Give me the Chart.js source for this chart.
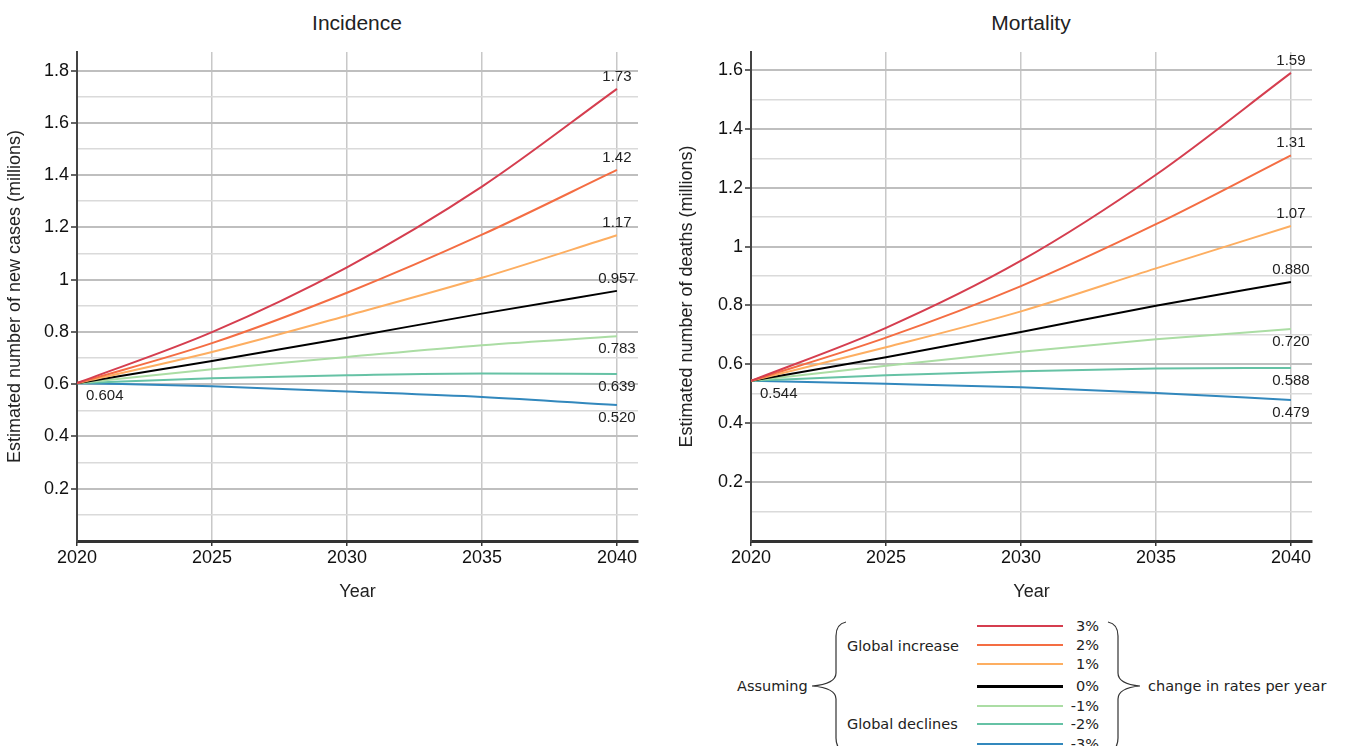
<!DOCTYPE html>
<html>
<head>
<meta charset="utf-8">
<script src="https://cdn.jsdelivr.net/npm/chart.js@4.4.1/dist/chart.umd.min.js"></script>
<style>
  html, body { margin: 0; padding: 0; background: #fff; }
  body { width: 1345px; height: 746px; position: relative; overflow: hidden; }
  canvas { position: absolute; top: 0; }
  .title { position: absolute; top: 11px; font: 21px "Liberation Sans", Arial, sans-serif; line-height: 24px; color: #222; transform: translateX(-50%); white-space: nowrap; }
  .lg { position: absolute; font: 14.5px "DejaVu Sans", Verdana, sans-serif; color: #222; white-space: nowrap; line-height: 16px; }
  .lg-line { position: absolute; left: 977px; width: 86px; }
  .lg-pct { position: absolute; right: 246px; font: 14.5px "DejaVu Sans", Verdana, sans-serif; color: #222; line-height: 16px; }
</style>
</head>
<body>
<div class="title" style="left:357px">Incidence</div>
<div class="title" style="left:1031px">Mortality</div>
<canvas id="incidence" width="660" height="610" style="left:0"></canvas>
<canvas id="mortality" width="673" height="610" style="left:672px"></canvas>
<div id="legend"></div>
<svg width="1345" height="746" style="position:absolute;left:0;top:0;pointer-events:none">
  <path d="M846 622 Q836 624 836 636 L836 673 Q836 684 812 686 Q836 688 836 699 L836 738 Q836 750 846 752" fill="none" stroke="#333" stroke-width="1.2"/>
  <path d="M1108 622 Q1118 624 1118 636 L1118 673 Q1118 684 1140 686 Q1118 688 1118 699 L1118 738 Q1118 750 1108 752" fill="none" stroke="#333" stroke-width="1.2"/>
</svg>
<script>
// years shown on the x axis and used for the projections
const years = [2020, 2025, 2030, 2035, 2040];
const xTicks = [2020, 2025, 2030, 2035, 2040];
const scenarios = ['3%', '2%', '1%', '0%', '-1%', '-2%', '-3%'];

// incidence, millions of new cases
const inc3 = [0.604, 0.799, 1.047, 1.356, 1.73];
const inc2 = [0.604, 0.757, 0.950, 1.172, 1.42];
const inc1 = [0.604, 0.723, 0.862, 1.007, 1.17];
const inc0 = [0.604, 0.689, 0.778, 0.870, 0.957];
const incM1 = [0.604, 0.657, 0.704, 0.749, 0.783];
const incM2 = [0.604, 0.623, 0.634, 0.641, 0.639];
const incM3 = [0.604, 0.592, 0.572, 0.551, 0.520];

// mortality, millions of deaths
const mort3 = [0.544, 0.724, 0.952, 1.244, 1.59];
const mort2 = [0.544, 0.691, 0.866, 1.076, 1.31];
const mort1 = [0.544, 0.658, 0.780, 0.926, 1.07];
const mort0 = [0.544, 0.624, 0.710, 0.799, 0.880];
const mortM1 = [0.544, 0.595, 0.643, 0.685, 0.720];
const mortM2 = [0.544, 0.563, 0.577, 0.586, 0.588];
const mortM3 = [0.544, 0.534, 0.522, 0.503, 0.479];

const incTickLabels = ['0.2', '0.4', '0.6', '0.8', '1', '1.2', '1.4', '1.6', '1.8'];
const mortTickLabels = ['0.2', '0.4', '0.6', '0.8', '1', '1.2', '1.4', '1.6'];

const lineColors = ['#d53e4f', '#f46d43', '#fdae61', '#000000', '#abdda4', '#66c2a5', '#3288bd'];

const FONT = '"Liberation Sans", Arial, sans-serif';

// labels at the end of each line and at the common start point
const valueLabels = {
    id: 'valueLabels',
    afterDatasetsDraw(chart) {
        const ctx = chart.ctx;
        ctx.save();
        ctx.font = '15px ' + FONT;
        ctx.fillStyle = '#222';
        ctx.textBaseline = 'middle';
        chart.data.datasets.forEach((ds, i) => {
            const pts = chart.getDatasetMeta(i).data;
            const last = pts[pts.length - 1];
            const v = ds.data[ds.data.length - 1].y;
            ctx.textAlign = 'center';
            ctx.fillText(v.toPrecision(3), last.x, i < 4 ? last.y - 12 : last.y + 13);
        });
        const first = chart.getDatasetMeta(0).data[0];
        ctx.textAlign = 'left';
        ctx.fillText(chart.data.datasets[0].data[0].y.toPrecision(3), first.x + 9, first.y + 13);
        ctx.restore();
    }
};

function makeChart(id, series, yTitle, yMax, tickLabels, yWidth, padRight) {
    const datasets = series.map((arr, i) => ({
        label: scenarios[i],
        data: years.map((x, j) => ({ x: x, y: arr[j] })),
        borderColor: lineColors[i],
        borderWidth: 2,
        pointRadius: 0,
        cubicInterpolationMode: 'monotone',
        fill: false
    }));
    const isMajor = v => Math.round(v * 10) % 2 === 0;
    return new Chart(document.getElementById(id), {
        type: 'line',
        data: { datasets: datasets },
        options: {
            responsive: false,
            animation: false,
            layout: { padding: { top: 52, right: padRight, bottom: 0, left: 0 } },
            plugins: { legend: { display: false }, tooltip: { enabled: false } },
            scales: {
                x: {
                    type: 'linear',
                    min: 2020,
                    max: 2040.78,
                    afterBuildTicks: s => { s.ticks = xTicks.map(v => ({ value: v })); },
                    afterFit: s => { s.height = 69; },
                    ticks: { color: '#111', font: { family: FONT, size: 18 }, padding: 1, maxRotation: 0, callback: v => String(v) },
                    grid: { color: '#c8c8c8', lineWidth: 1.5, tickLength: 5, tickColor: '#333', tickWidth: 1.5 },
                    border: { color: '#333', width: 3 },
                    title: { display: true, text: 'Year', color: '#222', font: { family: FONT, size: 18 }, padding: { top: 0, bottom: 7 } }
                },
                y: {
                    type: 'linear',
                    min: 0,
                    max: yMax,
                    afterBuildTicks: s => {
                        const t = [];
                        for (let k = 0; k <= Math.floor(yMax * 10); k++) t.push({ value: k / 10 });
                        s.ticks = t;
                    },
                    afterFit: s => { s.width = yWidth; },
                    ticks: {
                        color: '#111',
                        font: { family: FONT, size: 18 },
                        padding: 2,
                        autoSkip: false,
                        callback: v => {
                            const lbl = String(Math.round(v * 10) / 10);
                            return tickLabels.includes(lbl) ? lbl : '';
                        }
                    },
                    grid: {
                        color: c => isMajor(c.tick.value) ? '#bfbfbf' : '#dadada',
                        lineWidth: c => isMajor(c.tick.value) ? 2 : 1.5,
                        tickLength: 6,
                        tickColor: c => (isMajor(c.tick.value) && c.tick.value > 0) ? '#333' : 'rgba(0,0,0,0)',
                        tickWidth: 1.5
                    },
                    border: { color: '#444', width: 2 },
                    title: { display: true, text: yTitle, color: '#222', font: { family: FONT, size: 18 }, padding: { top: 4, bottom: 0 } }
                }
            }
        },
        plugins: [valueLabels]
    });
}

makeChart('incidence', [inc3, inc2, inc1, inc0, incM1, incM2, incM3],
    'Estimated number of new cases (millions)', 1.871, incTickLabels, 77, 22);
makeChart('mortality', [mort3, mort2, mort1, mort0, mortM1, mortM2, mortM3],
    'Estimated number of deaths (millions)', 1.661, mortTickLabels, 79, 33);

// legend block below the mortality chart
const legendRows = [626, 645, 664, 686, 706, 724, 744];
const legend = document.getElementById('legend');
let html = '<div class="lg" style="left:737px;top:678px">Assuming</div>' +
    '<div class="lg" style="left:847px;top:638px">Global increase</div>' +
    '<div class="lg" style="left:847px;top:716px">Global declines</div>' +
    '<div class="lg" style="left:1148px;top:678px">change in rates per year</div>';
scenarios.forEach((s, i) => {
    const h = i === 3 ? 3 : 2;
    html += `<div class="lg-line" style="top:${legendRows[i] - h / 2}px;height:${h}px;background:${lineColors[i]}"></div>`;
    html += `<div class="lg-pct" style="top:${legendRows[i] - 8}px">${s}</div>`;
});
legend.innerHTML = html;
</script>
</body>
</html>
